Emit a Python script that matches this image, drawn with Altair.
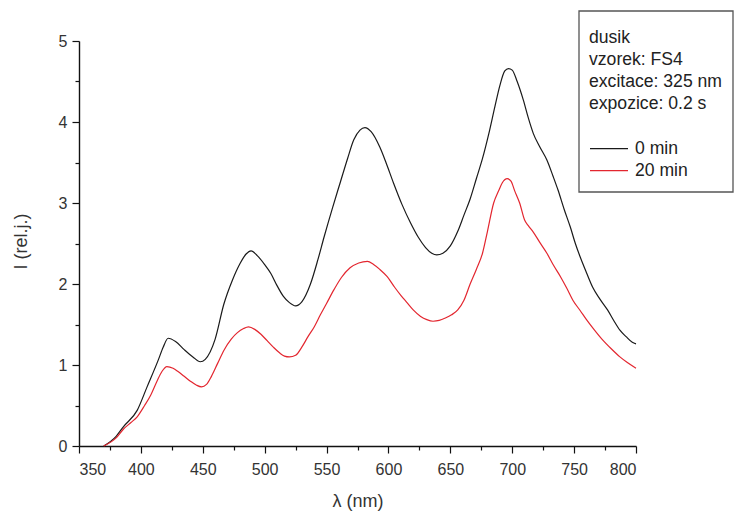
import altair as alt
import pandas as pd

# 0 min spectrum (black)
lam_0 = [370, 380, 386, 397, 405, 414, 418, 422, 428, 435, 442, 448, 452, 460, 467, 474, 480, 485, 489,
         494, 500, 505, 510, 515, 520, 525, 530, 537, 543, 548, 555, 561, 567, 572, 577, 581, 586, 593,
         598, 604, 611, 618, 624, 630, 635, 639, 644, 650, 656, 661, 666, 671, 676, 681, 686, 690, 694,
         697, 700, 704, 709, 713, 717, 722, 728, 733, 737, 742, 747, 751, 755, 760, 765, 771, 777, 782,
         787, 792, 797, 800]
int_0 = [0.0, 0.12, 0.24, 0.44, 0.73, 1.06, 1.22, 1.33, 1.29, 1.19, 1.10, 1.04, 1.07, 1.32, 1.75, 2.05,
         2.25, 2.37, 2.41, 2.35, 2.24, 2.13, 1.98, 1.85, 1.77, 1.73, 1.78, 2.0, 2.3, 2.58, 2.95, 3.25, 3.55,
         3.78, 3.9, 3.93, 3.88, 3.69, 3.5, 3.25, 2.98, 2.75, 2.58, 2.45, 2.38, 2.36, 2.38, 2.47, 2.65, 2.85,
         3.05, 3.3, 3.55, 3.85, 4.19, 4.45, 4.63, 4.66, 4.64, 4.5, 4.27, 4.05, 3.86, 3.7, 3.53, 3.33, 3.16,
         2.92, 2.70, 2.5, 2.33, 2.14, 1.96, 1.81, 1.68, 1.55, 1.43, 1.35, 1.28, 1.26]

# 20 min spectrum (red)
lam_20 = [370, 380, 386, 392, 397, 403, 408, 413, 417, 421, 426, 430, 435, 440, 445, 449, 453, 457, 462,
          467, 473, 478, 483, 487, 492, 497, 502, 507, 512, 516, 520, 525, 530, 535, 540, 545, 550, 556,
          562, 569, 576, 583, 588, 593, 599, 605, 610, 615, 620, 626, 631, 636, 641, 646, 651, 656, 661,
          666, 671, 676, 680, 685, 689, 692, 696, 699, 702, 706, 710, 713, 717, 722, 728, 733, 739, 744,
          749, 755, 760, 766, 773, 780, 787, 793, 800]
int_20 = [0.0, 0.1, 0.21, 0.29, 0.36, 0.5, 0.63, 0.8, 0.92, 0.98, 0.96, 0.92, 0.86, 0.8, 0.75, 0.73, 0.76,
          0.86, 1.02, 1.18, 1.32, 1.40, 1.45, 1.47, 1.44, 1.38, 1.30, 1.22, 1.15, 1.11, 1.10, 1.12, 1.22,
          1.35, 1.47, 1.62, 1.76, 1.93, 2.08, 2.2, 2.26, 2.28, 2.24, 2.18, 2.09, 1.96, 1.86, 1.77, 1.68,
          1.60, 1.56, 1.54, 1.55, 1.58, 1.62, 1.68, 1.8, 2.0, 2.18, 2.38, 2.65, 3.0, 3.15, 3.25, 3.30, 3.27,
          3.15, 3.0, 2.79, 2.72, 2.64, 2.52, 2.38, 2.24, 2.09, 1.95, 1.80, 1.67, 1.56, 1.44, 1.31, 1.2,
          1.10, 1.03, 0.96]

series_names = ["0 min", "20 min"]
series_colors = ["#1a1a1a", "#e3262f"]
x_major = [350, 400, 450, 500, 550, 600, 650, 700, 750, 800]
x_minor = [375, 425, 475, 525, 575, 625, 675, 725, 775]
y_major = [0, 1, 2, 3, 4, 5]
y_minor = [0.5, 1.5, 2.5, 3.5, 4.5]
legend_title = ["dusik", "vzorek: FS4", "excitace: 325 nm", "expozice: 0.2 s"]

df = pd.concat([
    pd.DataFrame({"lam": lam_0, "I": int_0, "s": series_names[0]}),
    pd.DataFrame({"lam": lam_20, "I": int_20, "s": series_names[1]}),
])

FONT = "Liberation Sans"
xscale = alt.Scale(domain=[350, 800], nice=False, zero=False)
yscale = alt.Scale(domain=[0, 5], nice=False)

# legend frame
frame = alt.Chart(pd.DataFrame({"k": [0]})).mark_rect(
    fill="white", stroke="#555", strokeWidth=1.3
).encode(x=alt.value(500), x2=alt.value(654), y=alt.value(-30), y2=alt.value(151))

lines = alt.Chart(df).mark_line(strokeWidth=1.2, interpolate="monotone").encode(
    x=alt.X("lam:Q", scale=xscale,
            axis=alt.Axis(values=x_major, title="λ (nm)", orient="bottom", tickSize=7,
                          labelPadding=8, titlePadding=15, domainColor="#111", domainWidth=1.4,
                          tickColor="#111", tickWidth=1.2)),
    y=alt.Y("I:Q", scale=yscale,
            axis=alt.Axis(values=y_major, title="I (rel.j.)", orient="left", tickSize=7,
                          labelPadding=5, titleX=-58, titleY=200, titleBaseline="middle",
                          domainColor="#111", domainWidth=1.4, tickColor="#111", tickWidth=1.2)),
    color=alt.Color("s:N", scale=alt.Scale(domain=series_names, range=series_colors),
                    legend=alt.Legend(title=legend_title, orient="none", legendX=510, legendY=-12,
                                      symbolType="stroke", symbolSize=1444, symbolStrokeWidth=1.2,
                                      padding=0, clipHeight=22,
                                      titleFontSize=17.6, titleFontWeight="normal", titleLineHeight=22,
                                      titleColor="#222", titlePadding=25, labelFontSize=17.6,
                                      labelColor="#222", rowPadding=0, labelOffset=6, labelFont=FONT,
                                      titleFont=FONT)),
    detail="s:N",
)

minor = alt.Chart(df).mark_point(opacity=0).encode(
    x=alt.X("lam:Q", scale=xscale,
            axis=alt.Axis(values=x_minor, labels=False, domain=False, title=None, orient="bottom",
                          tickSize=4, tickColor="#111", tickWidth=1.2)),
    y=alt.Y("I:Q", scale=yscale,
            axis=alt.Axis(values=y_minor, labels=False, domain=False, title=None, orient="left",
                          tickSize=4, tickColor="#111", tickWidth=1.2)),
)

chart = alt.layer(lines, minor, frame).resolve_axis(x="independent", y="independent").properties(
    width=557, height=405,
    background="white",
    autosize=alt.AutoSizeParams(type="none"),
    padding={"left": 79, "top": 41, "right": 101, "bottom": 71},
).configure_view(stroke=None).configure_axis(
    grid=False, labelFont=FONT, titleFont=FONT, labelFontSize=16, titleFontSize=18,
    labelColor="#333", titleColor="#333", titleFontWeight="normal",
)

chart.save("out.html", embed_options={"renderer": "svg", "actions": False})
